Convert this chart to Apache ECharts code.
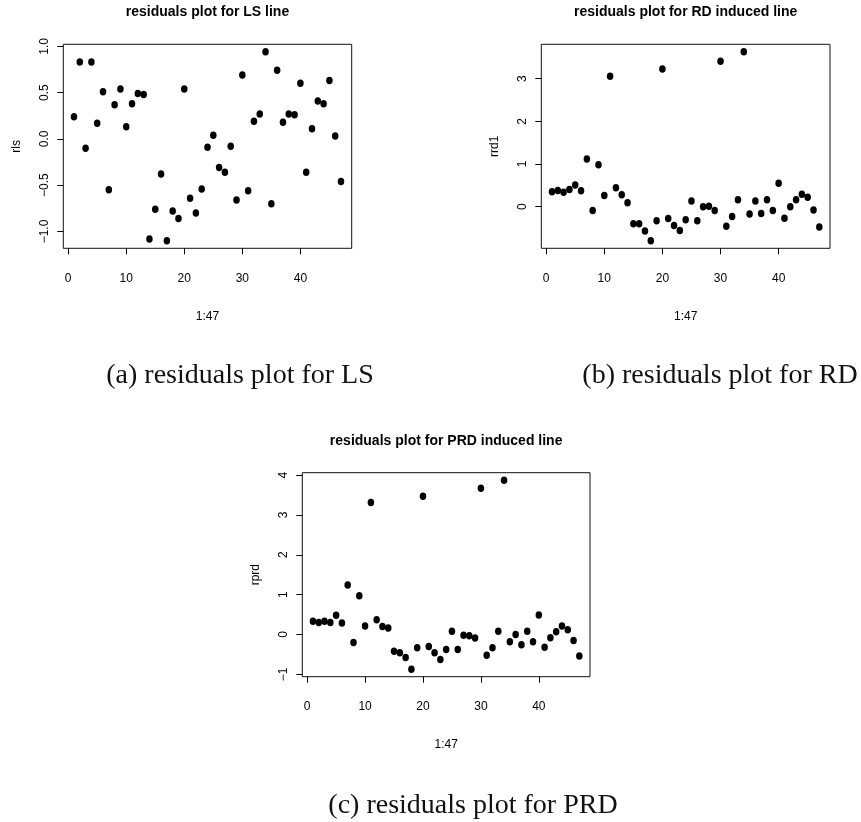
<!DOCTYPE html>
<html>
<head>
<meta charset="utf-8">
<script src="https://cdn.jsdelivr.net/npm/echarts@6/dist/echarts.min.js"></script>
<style>
html,body{margin:0;padding:0;background:#fff;}
#chart{width:861px;height:822px;}
</style>
</head>
<body>
<div id="chart"></div>
<script>
// ---- data ----
var idx = [1,2,3,4,5,6,7,8,9,10,11,12,13,14,15,16,17,18,19,20,21,22,23,24,25,26,27,28,29,30,31,32,33,34,35,36,37,38,39,40,41,42,43,44,45,46,47];
var rls = [0.24,0.83,-0.10,0.83,0.17,0.51,-0.55,0.37,0.54,0.13,
           0.38,0.49,0.48,-1.08,-0.76,-0.38,-1.10,-0.78,-0.86,0.54,
           -0.64,-0.80,-0.54,-0.09,0.04,-0.31,-0.36,-0.08,-0.66,0.69,
           -0.56,0.19,0.27,0.94,-0.70,0.74,0.18,0.27,0.26,0.60,
           -0.36,0.11,0.41,0.38,0.63,0.03,-0.46];
var rrd1 = [0.35,0.38,0.34,0.40,0.51,0.37,1.12,-0.09,0.98,0.26,
            3.06,0.44,0.28,0.09,-0.40,-0.40,-0.57,-0.80,-0.33,3.23,
            -0.28,-0.44,-0.56,-0.31,0.13,-0.33,0.00,0.01,-0.09,3.41,
            -0.46,-0.23,0.16,3.63,-0.17,0.13,-0.16,0.16,-0.09,0.55,
            -0.27,0.00,0.16,0.29,0.22,-0.08,-0.48];
var rprd = [0.33,0.30,0.33,0.30,0.48,0.29,1.24,-0.20,0.97,0.21,
            3.31,0.37,0.20,0.16,-0.42,-0.46,-0.58,-0.87,-0.33,3.47,
            -0.30,-0.46,-0.63,-0.38,0.08,-0.38,-0.02,-0.03,-0.09,3.67,
            -0.52,-0.33,0.08,3.87,-0.18,0.00,-0.26,0.08,-0.18,0.49,
            -0.32,-0.08,0.07,0.21,0.12,-0.15,-0.54];
var xTicks = [0,10,20,30,40];
var yTicksA = [-1.0,-0.5,0.0,0.5,1.0];
var yTicksB = [0,1,2,3];
var yTicksC = [-1,0,1,2,3,4];
var plotTitles = ['residuals plot for LS line','residuals plot for RD induced line','residuals plot for PRD induced line'];
var yNames = ['rls','rrd1','rprd'];
var xName = '1:47';
var captions = ['(a) residuals plot for LS','(b) residuals plot for RD','(c) residuals plot for PRD'];

// ---- layout ----
var grids = [
  {left:63.3, top:44.3, width:288.4, height:204},
  {left:541.3, top:44.3, width:288.7, height:204},
  {left:302.3, top:472.7, width:287.7, height:204}
];
var series = [rls, rrd1, rprd];
var yTicks = [yTicksA, yTicksB, yTicksC];
var yDec = [1, 0, 0];

function rng(arr){
  var mn = Math.min.apply(null, arr), mx = Math.max.apply(null, arr);
  var p = 0.04*(mx-mn);
  return [mn-p, mx+p];
}
var xr = rng(idx);
var sansFont = 'Liberation Sans, Arial, sans-serif';
var serifFont = 'Liberation Serif, Times New Roman, serif';

function fmt(v, d){
  var s = Number(v).toFixed(d);
  return s.replace('-', '\u2212');
}

var option = {
  backgroundColor:'#fff',
  animation:false,
  title:[],
  grid:[], xAxis:[], yAxis:[], series:[]
};

for (var i=0;i<3;i++){
  var g = grids[i];
  option.grid.push({left:g.left, top:g.top, width:g.width, height:g.height,
    show:true, borderColor:'#111', borderWidth:1, backgroundColor:'transparent', containLabel:false});
  option.xAxis.push({
    type:'value', gridIndex:i, min:xr[0], max:xr[1], position:'bottom',
    name:xName, nameLocation:'middle', nameGap:62,
    nameTextStyle:{fontFamily:sansFont, fontSize:12, color:'#000'},
    axisLine:{show:false, onZero:false},
    axisTick:{show:true, inside:false, length:6, customValues:xTicks, lineStyle:{color:'#000', width:1}},
    axisLabel:{show:true, customValues:xTicks, margin:24, fontFamily:sansFont, fontSize:12, color:'#000'},
    splitLine:{show:false}
  });
  var yr = rng(series[i]);
  (function(d){
  option.yAxis.push({
    type:'value', gridIndex:i, min:yr[0], max:yr[1], position:'left',
    name:yNames[i], nameLocation:'middle', nameGap:41, nameRotate:90,
    nameTextStyle:{fontFamily:sansFont, fontSize:12, color:'#000'},
    axisLine:{show:false, onZero:false},
    axisTick:{show:true, inside:false, length:6, customValues:yTicks[i], lineStyle:{color:'#000', width:1}},
    axisLabel:{show:true, customValues:yTicks[i], rotate:90, margin:13, fontFamily:sansFont, fontSize:12, color:'#000',
      formatter:function(v){ return fmt(v, d); }},
    splitLine:{show:false}
  });
  })(yDec[i]);
  var pts = idx.map(function(x, k){ return [x, series[i][k]]; });
  option.series.push({
    type:'scatter', xAxisIndex:i, yAxisIndex:i, data:pts,
    symbol:'circle', symbolSize:[6.5,7.5], itemStyle:{color:'#000', opacity:1}, silent:true
  });
  option.title.push({
    text:plotTitles[i], left:g.left + g.width/2, top:g.top - 39, textAlign:'center', padding:0,
    textStyle:{fontFamily:sansFont, fontSize:14, fontWeight:'bold', color:'#000'}
  });
}
var capPos = [[240, 362], [720, 362], [473, 792]];
for (var j=0;j<3;j++){
  option.title.push({
    text:captions[j], left:capPos[j][0], top:capPos[j][1], textAlign:'center', padding:0,
    textStyle:{fontFamily:serifFont, fontSize:28, fontWeight:'normal', color:'#111'}
  });
}

var chart = echarts.init(document.getElementById('chart'), null, {renderer:'canvas'});
chart.setOption(option);
</script>
</body>
</html>
